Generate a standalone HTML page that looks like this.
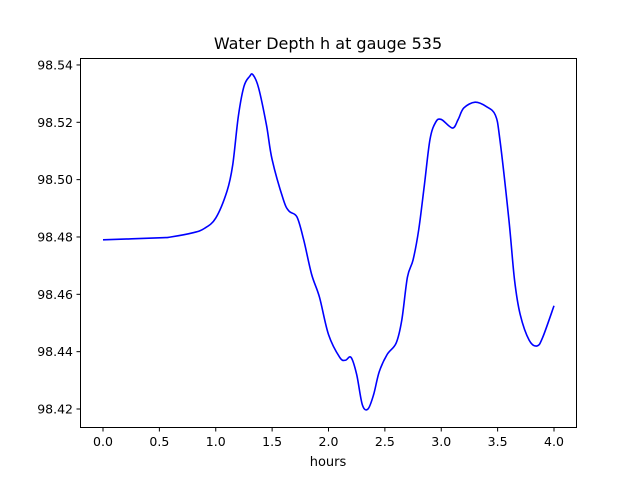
<!DOCTYPE html>
<html><head><meta charset="utf-8"><style>
html,body{margin:0;padding:0;background:#fff;}
svg{display:block;font-family:"DejaVu Sans","Liberation Sans",sans-serif;}
</style></head><body>
<svg id="chart" width="640" height="480">
<rect width="640" height="480" fill="#fff"/>
<text x="328" y="49" font-size="16" text-anchor="middle">Water Depth h at gauge 535</text>
<text x="328" y="466" font-size="13" text-anchor="middle">hours</text>
<g id="ticks"></g>
<path id="line" fill="none" stroke="#0000ff" stroke-width="1.6"/>
<rect x="80.5" y="58.5" width="496" height="369" fill="none" stroke="#000" stroke-width="1"/>
</svg>
<script>
const hours=[0,0.5,0.6,0.8,0.9,1.0,1.1,1.15,1.2,1.25,1.3,1.33,1.38,1.45,1.5,1.6,1.65,1.72,1.78,1.85,1.92,2.0,2.1,2.15,2.2,2.25,2.3,2.35,2.4,2.45,2.52,2.6,2.65,2.7,2.75,2.8,2.85,2.9,2.95,3.0,3.1,3.15,3.2,3.3,3.4,3.48,3.52,3.6,3.65,3.7,3.78,3.85,3.9,4.0];
const depth=[98.479,98.4797,98.480,98.4815,98.483,98.4866,98.496,98.505,98.522,98.5325,98.536,98.5366,98.532,98.519,98.507,98.493,98.489,98.487,98.479,98.467,98.459,98.446,98.438,98.437,98.438,98.432,98.4215,98.420,98.425,98.433,98.439,98.443,98.451,98.466,98.472,98.4825,98.498,98.514,98.520,98.521,98.518,98.521,98.525,98.527,98.5255,98.5225,98.514,98.486,98.465,98.453,98.444,98.442,98.445,98.456];
const xTicks=[0,0.5,1.0,1.5,2.0,2.5,3.0,3.5,4.0];
const yTicks=[98.42,98.44,98.46,98.48,98.50,98.52,98.54];
const X=v=>103+v*112.75;
const Y=v=>409-(v-98.42)*2867;
const ns="http://www.w3.org/2000/svg";
const g=document.getElementById('ticks');
function mk(tag,attrs,txt){const e=document.createElementNS(ns,tag);for(const k in attrs)e.setAttribute(k,attrs[k]);if(txt!==undefined)e.textContent=txt;g.appendChild(e);return e;}
xTicks.forEach(t=>{
  const l=mk('line',{x1:X(t),x2:X(t),y1:427.5,y2:431.5,stroke:'#000'});
  
  
  const s=mk('text',{x:X(t),y:446,'font-size':12.5,'text-anchor':'middle'},t.toFixed(1));
  
  
});
yTicks.forEach(t=>{
  const l=mk('line',{x1:76.5,x2:80.5,y1:Y(t),y2:Y(t),stroke:'#000'});
  
  
  const s=mk('text',{x:73,y:Y(t)+4.5,'font-size':12.5,'text-anchor':'end'},t.toFixed(2));
  
  
});
const pts=hours.map((h,i)=>[X(h),Y(depth[i])]);
let d='M'+pts[0][0]+','+pts[0][1];
for(let i=0;i<pts.length-1;i++){
  const p0=pts[Math.max(0,i-1)],p1=pts[i],p2=pts[i+1],p3=pts[Math.min(pts.length-1,i+2)];
  const c1=[p1[0]+(p2[0]-p0[0])/6,p1[1]+(p2[1]-p0[1])/6];
  const c2=[p2[0]-(p3[0]-p1[0])/6,p2[1]-(p3[1]-p1[1])/6];
  d+=` C${c1[0]},${c1[1]} ${c2[0]},${c2[1]} ${p2[0]},${p2[1]}`;
}
document.getElementById('line').setAttribute('d',d);
</script>
</body></html>
